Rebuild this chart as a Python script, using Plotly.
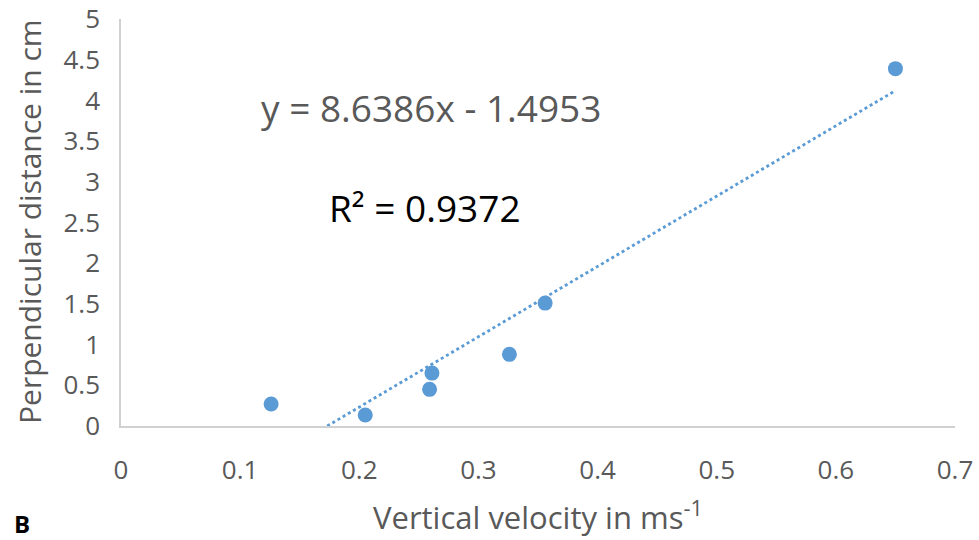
import plotly.graph_objects as go

# Data
velocity = [0.126, 0.205, 0.259, 0.261, 0.326, 0.356, 0.650]
distance = [0.27, 0.135, 0.45, 0.65, 0.88, 1.51, 4.39]

slope = 8.6386
intercept = -1.4953
r_squared = 0.9372

x_ticks = [0, 0.1, 0.2, 0.3, 0.4, 0.5, 0.6, 0.7]
y_ticks = [0, 0.5, 1, 1.5, 2, 2.5, 3, 3.5, 4, 4.5, 5]

blue = "#5B9BD5"
gray = "#595959"
font_family = "Open Sans, Liberation Sans, sans-serif"

x_start = -intercept / slope
trend_x = [x_start, max(velocity)]
trend_y = [slope * v + intercept for v in trend_x]

fig = go.Figure()
fig.add_trace(go.Scatter(x=trend_x, y=trend_y, mode="lines",
                         line=dict(color=blue, width=2.8, dash="dot"),
                         hoverinfo="skip", showlegend=False))
fig.add_trace(go.Scatter(x=velocity, y=distance, mode="markers",
                         marker=dict(color=blue, size=15),
                         showlegend=False, cliponaxis=False))

fig.update_layout(
    width=979, height=540,
    margin=dict(l=121, r=24, t=19, b=114),
    paper_bgcolor="white", plot_bgcolor="white",
    font=dict(family=font_family, color=gray),
    xaxis=dict(range=[0, 0.7], tickvals=x_ticks, ticktext=[str(t) for t in x_ticks],
               showgrid=False, zeroline=False, showline=True, linecolor="#d0d0d0", linewidth=1.5,
               automargin=False,
               ticks="", ticklabelstandoff=20, tickfont=dict(size=26, color=gray)),
    yaxis=dict(range=[0, 5], tickvals=y_ticks, ticktext=[str(t) for t in y_ticks],
               showgrid=False, zeroline=False, showline=True, linecolor="#d0d0d0", linewidth=1.5,
               automargin=False,
               ticks="", ticklabelstandoff=14, tickfont=dict(size=26, color=gray)),
    annotations=[
        dict(text="Vertical velocity in ms<sup>-1</sup>", xref="paper", yref="paper",
             x=(538 - 121) / 834, y=(426 - 515) / 407, xanchor="center", yanchor="middle", showarrow=False,
             font=dict(size=31, color=gray, family=font_family)),
        dict(text="Perpendicular distance in cm", xref="paper", yref="paper",
             x=(30 - 121) / 834, y=(426 - 222) / 407, xanchor="center", yanchor="middle", textangle=-90, showarrow=False,
             font=dict(size=30, color=gray, family=font_family)),
        dict(text=f"y = {slope}x - {abs(intercept)}", xref="paper", yref="paper",
             x=(431 - 121) / 834, y=(426 - 108) / 407, xanchor="center", yanchor="middle", showarrow=False,
             font=dict(size=37, color=gray, family=font_family)),
        dict(text=f"R² = {r_squared}", xref="paper", yref="paper",
             x=(425 - 121) / 834, y=(426 - 207) / 407, xanchor="center", yanchor="middle", showarrow=False,
             font=dict(size=37, color="black", family=font_family)),
        dict(text="<b>B</b>", xref="paper", yref="paper",
             x=(22 - 121) / 834, y=(426 - 523) / 407, xanchor="center", yanchor="middle", showarrow=False,
             font=dict(size=24, color="black", family=font_family)),
    ],
)

fig.write_html("out.html")
